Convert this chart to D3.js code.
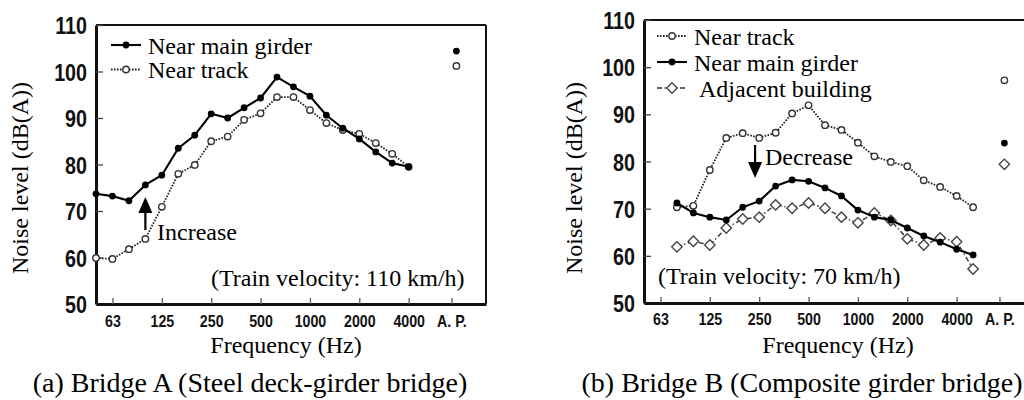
<!DOCTYPE html>
<html>
<head>
<meta charset="utf-8">
<script src="https://cdn.jsdelivr.net/npm/d3@7"></script>
<style>
  html, body { margin: 0; padding: 0; background: #fff; }
  svg { display: block; }
  .serif { font-family: "Liberation Serif", "Times New Roman", serif; fill: #000; }
  .tick text { font-family: "Liberation Sans", Arial, sans-serif; font-weight: bold; fill: #111; }
</style>
</head>
<body>
<svg id="chart" width="1024" height="400"></svg>
<script>
// ---------- DATA ----------
// 1/3-octave band centre frequencies (index 0 = 50 Hz)
const bands = ["50","63","80","100","125","160","200","250","315","400","500","630","800","1000","1250","1600","2000","2500","3150","4000","5000"];
const xTickLabels = ["63","125","250","500","1000","2000","4000","A. P."];
const xTickBands  = ["63","125","250","500","1000","2000","4000","A. P."];
const yTicks = [50, 60, 70, 80, 90, 100, 110];

// Bridge A (bands 50 .. 4000 Hz)
const bridgeABands = bands.slice(0, 20);
const bridgeAMainGirder = [73.7, 73.2, 72.2, 75.6, 77.7, 83.5, 86.3, 90.9, 90.0, 92.2, 94.3, 98.8, 96.7, 94.7, 90.6, 87.8, 85.5, 82.7, 80.3, 79.5];
const bridgeANearTrack  = [59.9, 59.7, 61.8, 64.0, 70.9, 78.0, 79.9, 85.0, 86.0, 89.6, 91.0, 94.5, 94.5, 91.7, 88.9, 87.4, 86.6, 84.6, 82.3, 79.5];
const bridgeAAP = { mainGirder: 104.4, nearTrack: 101.2 };

// Bridge B (bands 80 .. 5000 Hz)
const bridgeBBands = bands.slice(2, 21);
const bridgeBNearTrack  = [70.3, 70.6, 78.2, 85.0, 86.0, 85.0, 86.1, 90.2, 91.9, 87.7, 86.7, 84.0, 81.1, 79.9, 79.0, 76.0, 74.6, 72.7, 70.3];
const bridgeBMainGirder = [71.2, 69.1, 68.2, 67.6, 70.3, 71.6, 74.8, 76.1, 75.8, 74.4, 72.7, 69.7, 68.2, 67.6, 65.9, 64.2, 62.9, 61.4, 60.2];
const bridgeBAdjacent   = [61.9, 63.1, 62.3, 65.9, 67.8, 68.2, 70.8, 70.1, 71.2, 70.1, 68.2, 67.0, 69.1, 67.5, 63.6, 62.3, 63.8, 63.0, 57.2];
const bridgeBAP = { nearTrack: 97.2, mainGirder: 83.9, adjacent: 79.4 };

// ---------- HELPERS ----------
function bandIndex(b) {
  if (b === "A. P.") return 21.6;
  if (b === "AP") return 21.9;
  return bands.indexOf(b);
}

const svg = d3.select("#chart");

const styles = {
  main:   { stroke: "#000", width: 2.1, dash: null },
  track:  { stroke: "#222", width: 1.8, dash: "1.6,1.4" },
  adj:    { stroke: "#333", width: 1.4, dash: "5,2.5,1.5,2.5" }
};

function drawMarker(g, type, cx, cy) {
  if (type === "main") {
    g.append("circle").attr("cx", cx).attr("cy", cy).attr("r", 3.4).attr("fill", "#000");
  } else if (type === "track") {
    g.append("circle").attr("cx", cx).attr("cy", cy).attr("r", 3.2)
      .attr("fill", "#fff").attr("stroke", "#333").attr("stroke-width", 1.4);
  } else {
    const s = 5.2;
    g.append("path")
      .attr("d", `M${cx},${cy - s}L${cx + s},${cy}L${cx},${cy + s}L${cx - s},${cy}Z`)
      .attr("fill", "#fff").attr("stroke", "#444").attr("stroke-width", 1.4);
  }
}

function drawSeries(g, x, y, bandList, values, type) {
  const st = styles[type];
  const pts = bandList.map((b, i) => [x(bandIndex(b)), y(values[i])]);
  g.append("path")
    .attr("d", d3.line()(pts))
    .attr("fill", "none")
    .attr("stroke", st.stroke)
    .attr("stroke-width", st.width)
    .attr("stroke-dasharray", st.dash)
    .attr("stroke-linejoin", "round");
  pts.forEach(p => drawMarker(g, type, p[0], p[1]));
}

// condense tick labels (narrow bold look)
function condense(sel, ratio) {
  sel.each(function () {
    const w = this.getComputedTextLength();
    d3.select(this).attr("textLength", w * ratio).attr("lengthAdjust", "spacingAndGlyphs");
  });
}

function drawPanel(cfg) {
  const x = d3.scaleLinear().domain([0, 23.7]).range([cfg.left, cfg.right]);
  const y = d3.scaleLinear().domain([50, 110]).range([cfg.bottom, cfg.top]);
  const g = svg.append("g");

  g.append("line").attr("x1", cfg.left).attr("x2", Math.min(cfg.right, 1024)).attr("y1", cfg.top).attr("y2", cfg.top)
    .attr("stroke", "#111").attr("stroke-width", 2);
  g.append("line").attr("x1", cfg.right).attr("x2", cfg.right).attr("y1", cfg.top).attr("y2", cfg.bottom)
    .attr("stroke", "#111").attr("stroke-width", 2);

  const ya = g.append("g").attr("transform", `translate(${cfg.left},0)`)
    .call(d3.axisLeft(y).tickValues(yTicks).tickFormat(d3.format("d")).tickSizeInner(-7).tickSizeOuter(0).tickPadding(9));
  ya.select(".domain").attr("stroke", "#111").attr("stroke-width", 3);
  ya.selectAll(".tick line").attr("stroke", "#444").attr("stroke-width", 1.3);
  ya.selectAll(".tick text").attr("font-size", 24).attr("dy", "0.36em").call(condense, 0.82);

  const xa = g.append("g").attr("transform", `translate(0,${cfg.bottom})`)
    .call(d3.axisBottom(x).tickValues(xTickBands.map(bandIndex))
      .tickFormat((d, i) => xTickLabels[i]).tickSizeInner(-6).tickSizeOuter(0).tickPadding(cfg.xPad));
  xa.select(".domain").attr("stroke", "#111").attr("stroke-width", 3);
  xa.selectAll(".tick line").attr("stroke", "#555").attr("stroke-width", 1.3);
  xa.selectAll(".tick text").attr("font-size", 16.5).call(condense, 0.86);

  g.append("text").attr("class", "serif").attr("font-size", 24)
    .attr("transform", `translate(${cfg.yTitleX},178) rotate(-90)`)
    .attr("text-anchor", "middle").text("Noise level (dB(A))");
  g.append("text").attr("class", "serif").attr("font-size", 24)
    .attr("x", cfg.xTitleX).attr("y", 353).attr("text-anchor", "middle").text("Frequency (Hz)");
  g.append("text").attr("class", "serif").attr("font-size", 28)
    .attr("x", cfg.captionX).attr("y", 392).attr("text-anchor", "middle").text(cfg.caption);

  cfg.series.forEach(s => drawSeries(g, x, y, s.bands, s.values, s.type));
  cfg.ap.forEach(a => drawMarker(g, a.type, x(bandIndex("AP")), y(a.value)));

  cfg.legend.forEach((l, i) => {
    const ly = cfg.legendY + i * cfg.legendStep;
    const st = styles[l.type];
    g.append("line").attr("x1", cfg.legendX).attr("x2", cfg.legendX + 30).attr("y1", ly).attr("y2", ly)
      .attr("stroke", st.stroke).attr("stroke-width", st.width).attr("stroke-dasharray", st.dash);
    drawMarker(g, l.type, cfg.legendX + 15, ly);
    g.append("text").attr("class", "serif").attr("font-size", 24)
      .attr("x", cfg.legendX + 37 + (l.type === "adj" ? 5 : 0)).attr("y", ly + 8.5).text(l.label);
  });

  const ax = x(cfg.arrow.band), y0 = y(cfg.arrow.from), y1 = y(cfg.arrow.to);
  const dir = y1 < y0 ? 1 : -1;
  g.append("line").attr("x1", ax).attr("x2", ax).attr("y1", y0).attr("y2", y1 + dir * 14)
    .attr("stroke", "#000").attr("stroke-width", 2.2);
  g.append("path")
    .attr("d", `M${ax},${y1}L${ax - 7},${y1 + dir * 16}L${ax + 7},${y1 + dir * 16}Z`).attr("fill", "#000");
  g.append("text").attr("class", "serif").attr("font-size", 24)
    .attr("x", cfg.arrow.textX).attr("y", cfg.arrow.textY).text(cfg.arrow.label);

  g.append("text").attr("class", "serif").attr("font-size", 24)
    .attr("x", cfg.note.x).attr("y", cfg.note.y).text(cfg.note.text);
}

drawPanel({
  left: 96, right: 486, top: 25, bottom: 304, xPad: 11.5,
  yTitleX: 28, xTitleX: 286, captionX: 250,
  caption: "(a) Bridge A (Steel deck-girder bridge)",
  series: [
    { bands: bridgeABands, values: bridgeANearTrack, type: "track" },
    { bands: bridgeABands, values: bridgeAMainGirder, type: "main" }
  ],
  ap: [ { type: "main", value: bridgeAAP.mainGirder }, { type: "track", value: bridgeAAP.nearTrack } ],
  legendX: 111, legendY: 45, legendStep: 24.5,
  legend: [ { type: "main", label: "Near main girder" }, { type: "track", label: "Near track" } ],
  arrow: { band: 3, from: 65.9, to: 73.0, label: "Increase", textX: 157, textY: 240 },
  note: { x: 211, y: 286, text: "(Train velocity: 110 km/h)" }
});

drawPanel({
  left: 644, right: 1034, top: 20, bottom: 303, xPad: 10.5,
  yTitleX: 582, xTitleX: 838, captionX: 802,
  caption: "(b) Bridge B (Composite girder bridge)",
  series: [
    { bands: bridgeBBands, values: bridgeBAdjacent, type: "adj" },
    { bands: bridgeBBands, values: bridgeBNearTrack, type: "track" },
    { bands: bridgeBBands, values: bridgeBMainGirder, type: "main" }
  ],
  ap: [ { type: "track", value: bridgeBAP.nearTrack }, { type: "main", value: bridgeBAP.mainGirder }, { type: "adj", value: bridgeBAP.adjacent } ],
  legendX: 657, legendY: 36, legendStep: 26,
  legend: [ { type: "track", label: "Near track" }, { type: "main", label: "Near main girder" }, { type: "adj", label: "Adjacent building" } ],
  arrow: { band: 6.75, from: 83.5, to: 76.5, label: "Decrease", textX: 765, textY: 165 },
  note: { x: 658, y: 284, text: "(Train velocity: 70 km/h)" }
});
</script>
</body>
</html>
